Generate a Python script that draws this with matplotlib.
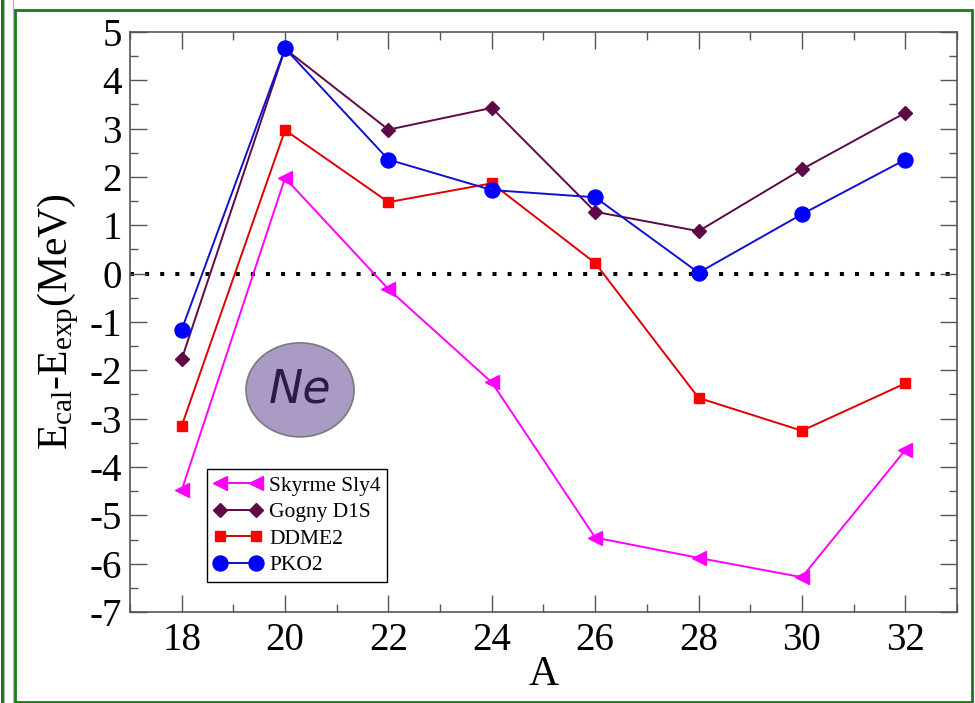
import matplotlib
matplotlib.use("Agg")
import matplotlib.pyplot as plt
from matplotlib.patches import Ellipse, Rectangle
from matplotlib.lines import Line2D
from matplotlib.ticker import MultipleLocator

plt.rcParams['font.family'] = ['Liberation Serif', 'DejaVu Serif']
plt.rcParams['mathtext.fontset'] = 'custom'
plt.rcParams['mathtext.rm'] = 'Liberation Serif'
plt.rcParams['mathtext.it'] = 'Liberation Serif:italic'
plt.rcParams['axes.unicode_minus'] = False

# Mass number A of the Ne isotopes
mass_number = [18, 20, 22, 24, 26, 28, 30, 32]

# E_cal - E_exp (MeV) for each model
skyrme_sly4 = [-4.48, 1.98, -0.32, -2.25, -5.46, -5.88, -6.28, -3.65]
gogny_d1s = [-1.77, 4.65, 2.98, 3.43, 1.28, 0.88, 2.16, 3.33]
ddme2 = [-3.15, 2.97, 1.48, 1.87, 0.22, -2.57, -3.25, -2.27]
pko2 = [-1.16, 4.66, 2.36, 1.73, 1.58, 0.02, 1.23, 2.36]

series_labels = ["Skyrme Sly4", "Gogny D1S", "DDME2", "PKO2"]

fig = plt.figure(figsize=(9.75, 7.03), dpi=100)
ax = fig.add_axes([130/975, 1-612/703, (957-130)/975, (612-32)/703])

ax.axhline(0, color='black', lw=2.9, linestyle=(0, (1, 2.75)),
           dash_capstyle='butt', zorder=1)

styles = [
    dict(color='#ff00ff', mfc='#ff00ff', mec='#ff00ff', marker='<', ms=10),
    dict(color='#5e0a46', mfc='#5e0a46', mec='#5e0a46', marker='D', ms=6.8),
    dict(color='#dd0000', mfc='#ff0000', mec='#ff0000', marker='s', ms=7.8),
    dict(color='#1010d0', mfc='#0000ff', mec='#0000ff', marker='o', ms=10.8),
]
for vals, lab, st in zip([skyrme_sly4, gogny_d1s, ddme2, pko2], series_labels, styles):
    ax.plot(mass_number, vals, lw=1.4, label=lab, zorder=3, **st)

ax.set_xlim(17, 33)
ax.set_ylim(-7, 5)
ax.xaxis.set_major_locator(MultipleLocator(2))
ax.xaxis.set_minor_locator(MultipleLocator(1))
ax.yaxis.set_major_locator(MultipleLocator(1))
ax.yaxis.set_minor_locator(MultipleLocator(0.5))
ax.tick_params(which='both', direction='in', top=True, right=True,
               color='#555555', width=1.0)
ax.tick_params(which='major', length=12.5, labelsize=28, pad=6)
ax.tick_params(which='minor', length=6)
ax.tick_params(axis='x', which='major', pad=7)
for sp in ax.spines.values():
    sp.set_color('#555555')
    sp.set_linewidth(1.2)

ax.set_xlabel('A', fontsize=30, labelpad=-2)
ax.set_ylabel(r'E$_{\rm cal}$-E$_{\rm exp}$(MeV)', fontsize=30, labelpad=6)

# Element badge
ax.add_patch(Ellipse((0.2056, 0.383), 0.1306, 0.162, transform=ax.transAxes,
                     facecolor='#a99bc4', edgecolor='#7a7a7a', lw=1.2, zorder=2))
ax.text(0.2056, 0.383, 'Ne', transform=ax.transAxes, ha='center', va='center',
        fontsize=33, style='italic', family='DejaVu Sans', color='#2e1a45',
        zorder=3)

leg = ax.legend(loc='lower left', bbox_to_anchor=(0.093, 0.052), fontsize=15.5,
                numpoints=2, handlelength=2.3, handletextpad=0.3,
                labelspacing=0.3, borderpad=0.3, borderaxespad=0,
                fancybox=False, framealpha=1, edgecolor='black')
leg.get_frame().set_linewidth(1.0)

# Page frame
fig.patches.append(Rectangle((15/975, 1.5/703), (972-15)/975, (702-10)/703,
                             transform=fig.transFigure, fill=False,
                             edgecolor='#1a7a1a', lw=2.0))
fig.lines.append(Line2D([13/975, 13/975], [0, 1], transform=fig.transFigure,
                        color='#b0b0b0', lw=0.8))
fig.lines.append(Line2D([1.6/975, 1.6/975], [0, 1], transform=fig.transFigure,
                        color='#1a7a1a', lw=2.2))
fig.lines.append(Line2D([4.3/975, 4.3/975], [0, 1], transform=fig.transFigure,
                        color='#b0b0b0', lw=0.8))

fig.savefig('out.png', dpi=100)
